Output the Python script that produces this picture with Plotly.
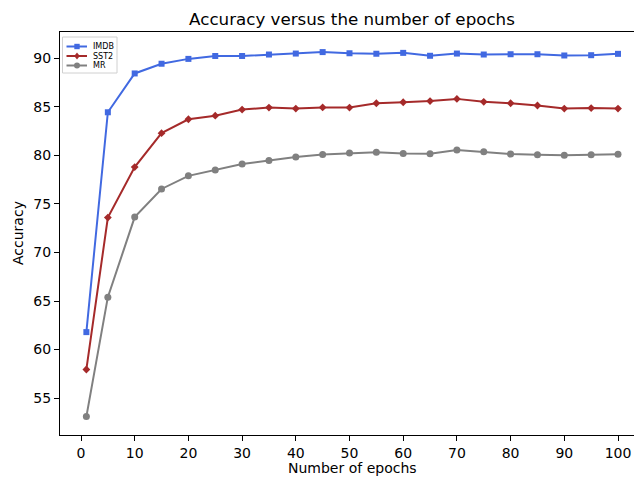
import plotly.graph_objects as go

epochs = [1, 5, 10, 15, 20, 25, 30, 35, 40, 45, 50, 55, 60, 65, 70, 75, 80, 85, 90, 95, 100]
imdb = [61.8, 84.45, 88.45, 89.45, 89.95, 90.25, 90.25, 90.4, 90.5, 90.65, 90.53, 90.48, 90.57, 90.27, 90.5, 90.4, 90.43, 90.43, 90.3, 90.33, 90.47]
sst2 = [57.95, 73.6, 78.8, 82.3, 83.73, 84.1, 84.73, 84.93, 84.83, 84.95, 84.93, 85.38, 85.48, 85.6, 85.83, 85.53, 85.38, 85.15, 84.83, 84.88, 84.83]
mr = [53.1, 65.4, 73.65, 76.55, 77.9, 78.5, 79.12, 79.47, 79.85, 80.1, 80.25, 80.33, 80.2, 80.18, 80.55, 80.38, 80.15, 80.08, 80.02, 80.07, 80.12]

series_names = ["IMDB", "SST2", "MR"]
series_colors = ["#4169E1", "#A52A2A", "#808080"]

x_ticks = [0, 10, 20, 30, 40, 50, 60, 70, 80, 90, 100]
y_ticks = [55, 60, 65, 70, 75, 80, 85, 90]

FONT = "DejaVu Sans"

# plot area in pixels
L, R, T, B = 60, 634, 32, 435
W, H = R - L, B - T


def px(x):
    return (x - L) / W


def py(y):
    return (B - y) / H


fig = go.Figure()
fig.add_trace(go.Scatter(x=epochs, y=imdb, name=series_names[0], mode="lines+markers",
                         line=dict(color=series_colors[0], width=2),
                         marker=dict(symbol="square", size=6, color=series_colors[0])))
fig.add_trace(go.Scatter(x=epochs, y=sst2, name=series_names[1], mode="lines+markers",
                         line=dict(color=series_colors[1], width=2),
                         marker=dict(symbol="diamond", size=6, color=series_colors[1])))
fig.add_trace(go.Scatter(x=epochs, y=mr, name=series_names[2], mode="lines+markers",
                         line=dict(color=series_colors[2], width=2),
                         marker=dict(symbol="circle", size=7, color=series_colors[2])))

fig.update_layout(
    width=634, height=477,
    margin=dict(l=L, r=634 - R, t=T, b=477 - B),
    paper_bgcolor="white", plot_bgcolor="white",
    font=dict(family=FONT, size=14, color="black"),
    title=dict(text="Accuracy versus the number of epochs", font=dict(family=FONT, size=16.7, color="black"),
               xref="container", x=352/634, xanchor="center",
               yref="container", y=1 - 19/477, yanchor="middle"),
    showlegend=False,
)

fig.update_xaxes(range=[-3.91, 102.98], tickvals=x_ticks, ticks="outside", ticklen=5, tickwidth=1,
                 tickcolor="black", showline=True, linecolor="black", linewidth=1, mirror=True,
                 showgrid=False, zeroline=False, tickfont=dict(family=FONT, size=14, color="black"))
fig.update_yaxes(range=[51.2, 92.72], tickvals=y_ticks, ticks="outside", ticklen=5, tickwidth=1,
                 tickcolor="black", showline=True, linecolor="black", linewidth=1, mirror=False,
                 showgrid=False, zeroline=False, tickfont=dict(family=FONT, size=14, color="black"))

fig.add_annotation(text="Number of epochs", xref="paper", yref="paper", x=px(352), y=py(468),
                   xanchor="center", yanchor="middle", showarrow=False, font=dict(family=FONT, size=14, color="black"))
fig.add_annotation(text="Accuracy", xref="paper", yref="paper", x=px(18), y=py(233),
                   xanchor="center", yanchor="middle", textangle=-90, showarrow=False,
                   font=dict(family=FONT, size=14, color="black"))

# legend (drawn manually to mimic matplotlib's compact legend)
rows = [46.5, 56.0, 65.5]
fig.add_shape(type="rect", xref="paper", yref="paper", x0=px(62.5), x1=px(117), y0=py(37), y1=py(73),
              line=dict(color="#d0d0d0", width=1), fillcolor="rgba(255,255,255,0.8)", layer="above")
for name, color, yy, sym in zip(series_names, series_colors, rows, ["square", "diamond", "circle"]):
    fig.add_shape(type="line", xref="paper", yref="paper", x0=px(66.5), x1=px(87), y0=py(yy), y1=py(yy),
                  line=dict(color=color, width=2), layer="above")
    cx, r = 77, 2.7
    if sym == "square":
        fig.add_shape(type="rect", xref="paper", yref="paper", x0=px(cx - r), x1=px(cx + r),
                      y0=py(yy - r), y1=py(yy + r), line=dict(width=0), fillcolor=color, layer="above")
    elif sym == "circle":
        fig.add_shape(type="circle", xref="paper", yref="paper", x0=px(cx - 3), x1=px(cx + 3),
                      y0=py(yy - 3), y1=py(yy + 3), line=dict(width=0), fillcolor=color, layer="above")
    else:
        d = 3.4
        path = (f"M {px(cx)} {py(yy - d)} L {px(cx + 2.8)} {py(yy)} L {px(cx)} {py(yy + d)} "
                f"L {px(cx - 2.8)} {py(yy)} Z")
        fig.add_shape(type="path", xref="paper", yref="paper", path=path, line=dict(width=0),
                      fillcolor=color, layer="above")
    fig.add_annotation(text=name, xref="paper", yref="paper", x=px(91.5), y=py(yy), xanchor="left",
                       yanchor="middle", showarrow=False, borderpad=0,
                       font=dict(family=FONT, size=8, color="black"))

fig.write_html("out.html", config={"displayModeBar": False},
               post_script="document.body.style.margin='0px';document.body.style.padding='0px';")
